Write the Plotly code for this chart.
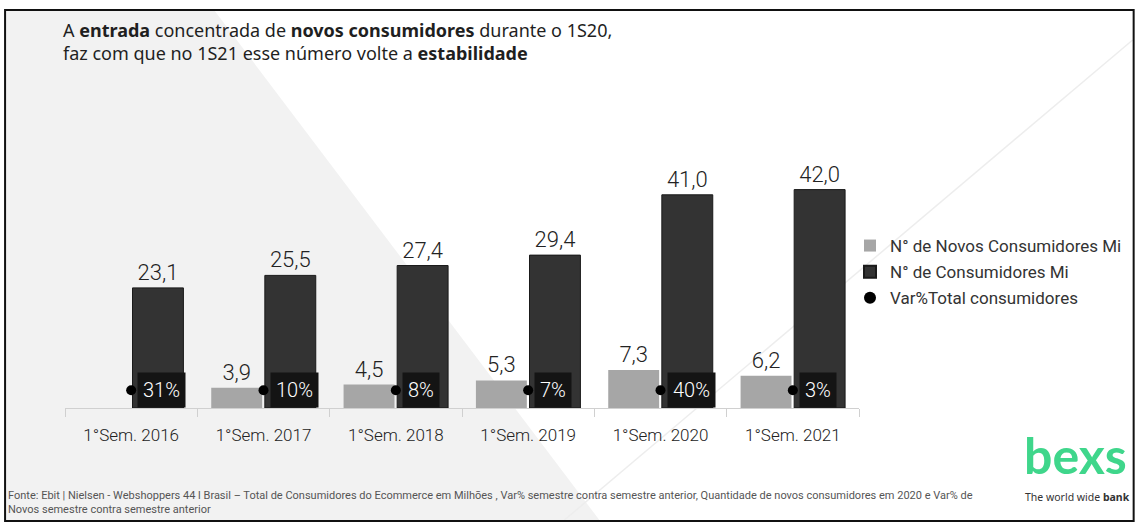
import plotly.graph_objects as go

# ---------------- data ----------------
categories = ["1°Sem. 2016", "1°Sem. 2017", "1°Sem. 2018", "1°Sem. 2019", "1°Sem. 2020", "1°Sem. 2021"]
novos_consumidores = [None, 3.9, 4.5, 5.3, 7.3, 6.2]
total_consumidores = [23.1, 25.5, 27.4, 29.4, 41.0, 42.0]
var_total_labels = ["31%", "10%", "8%", "7%", "40%", "3%"]

series_names = ["N° de Novos Consumidores Mi", "N° de Consumidores Mi", "Var%Total consumidores"]

# ---------------- geometry / style ----------------
W, H = 1138, 525
L, R, T, B = 65, 278, 130, 117
PW, PH = W - L - R, H - T - B
YMAX = PH / 5.2
DOT_LEVEL = 3.4  # vertical placement of the Var% markers (not to scale in the original)

FONT = "Roboto, Noto Sans, sans-serif"
TITLE_FONT = "Noto Sans, Open Sans, sans-serif"


def px(xp):
    return (xp - L) / PW


def py(yp):
    return (H - B - yp) / PH


def fmt(v):
    return "" if v is None else f"{v:.1f}".replace(".", ",")


fig = go.Figure()

fig.add_trace(go.Bar(
    name=series_names[0], x=categories, y=novos_consumidores, legendgroup="a",
    marker=dict(color="#a6a6a6", line=dict(width=0)),
    text=[fmt(v) for v in novos_consumidores], textposition="outside",
    textfont=dict(family=FONT, size=22, color="#222222", weight=300),
    cliponaxis=False,
))
fig.add_trace(go.Bar(
    name=series_names[1], x=categories, y=total_consumidores, legendgroup="b",
    marker=dict(color="#333333", line=dict(color="#1a1a1a", width=1)),
    text=[fmt(v) for v in total_consumidores], textposition="outside",
    textfont=dict(family=FONT, size=22, color="#222222", weight=300),
    cliponaxis=False,
))
fig.add_trace(go.Scatter(
    name=series_names[2], x=categories, y=[DOT_LEVEL] * len(categories), legendgroup="c",
    mode="markers", marker=dict(color="#000000", size=10),
    cliponaxis=False,
))

annotations = []
for c, lab in zip(categories, var_total_labels):
    annotations.append(dict(
        x=c, y=DOT_LEVEL, xref="x", yref="y", text=lab, showarrow=False,
        xanchor="left", yanchor="middle", xshift=6,
        bgcolor="#141414", borderpad=5,
        font=dict(family=FONT, size=20, color="#ffffff", weight=300),
    ))

# title
annotations.append(dict(
    x=px(61), y=py(16), xref="paper", yref="paper", xanchor="left", yanchor="top",
    align="left", showarrow=False,
    text="A <b>entrada</b> concentrada de <b>novos consumidores</b> durante o 1S20,<br>"
         "faz com que no 1S21 esse número volte a <b>estabilidade</b>",
    font=dict(family=TITLE_FONT, size=18, color="#1f1f1f"),
))
# footnote
annotations.append(dict(
    x=px(6), y=py(487), xref="paper", yref="paper", xanchor="left", yanchor="top",
    align="left", showarrow=False,
    text="Fonte: Ebit | Nielsen - Webshoppers 44 l Brasil – Total de Consumidores do Ecommerce em Milhões , "
         "Var% semestre contra semestre anterior, Quantidade de novos consumidores em 2020 e Var% de<br>"
         "Novos semestre contra semestre anterior",
    font=dict(family=FONT, size=11, color="#555555"),
))
# logo
annotations.append(dict(
    x=px(1077), y=py(455), xref="paper", yref="paper", xanchor="center", yanchor="middle",
    showarrow=False, text="<b>bexs</b>",
    font=dict(family="Lato, Noto Sans, sans-serif", size=50, color="#3fd68b"),
))
annotations.append(dict(
    x=px(1079), y=py(497), xref="paper", yref="paper", xanchor="center", yanchor="middle",
    showarrow=False, text="The world wide <b>bank</b>",
    font=dict(family="Noto Sans, sans-serif", size=10.5, color="#333333"),
))

shapes = [
    # light grey background wedge
    dict(type="path", xref="paper", yref="paper", layer="below",
         path=f"M {px(6)} {py(11)} L {px(215)} {py(11)} L {px(600)} {py(520)} L {px(6)} {py(520)} Z",
         fillcolor="#f2f2f2", line=dict(width=0)),
    # faint diagonal line
    dict(type="line", xref="paper", yref="paper", layer="below",
         x0=px(565), y0=py(520), x1=px(1134), y1=py(40),
         line=dict(color="#ededed", width=1.5)),
    # frame
    dict(type="rect", xref="paper", yref="paper", layer="above",
         x0=px(5), y0=py(10), x1=px(1135), y1=py(521),
         line=dict(color="#111111", width=2), fillcolor="rgba(0,0,0,0)"),
]

fig.update_layout(
    width=W, height=H,
    margin=dict(l=L, r=R, t=T, b=B, pad=0),
    paper_bgcolor="#ffffff", plot_bgcolor="rgba(0,0,0,0)",
    barmode="group", bargap=0.19, bargroupgap=0.05,
    showlegend=True,
    legend=dict(x=px(850), y=py(228), xanchor="left", yanchor="top",
                font=dict(family=FONT, size=17, color="#333333"),
                bgcolor="rgba(0,0,0,0)", tracegroupgap=1, itemsizing="constant"),
    annotations=annotations,
    shapes=shapes,
    xaxis=dict(type="category", showline=True, linecolor="#d0d0d0", linewidth=1,
               ticks="outside", tickson="boundaries", ticklen=8, tickcolor="#d0d0d0",
               tickfont=dict(family=FONT, size=17, color="#222222", weight=300),
               ticklabelstandoff=12, showgrid=False, zeroline=False, fixedrange=True),
    yaxis=dict(range=[0, YMAX], visible=False, showgrid=False, zeroline=False, fixedrange=True),
)

fig.write_html("out.html", config={"displayModeBar": False},
               post_script="document.body.style.margin='0';document.body.style.overflow='hidden';")
